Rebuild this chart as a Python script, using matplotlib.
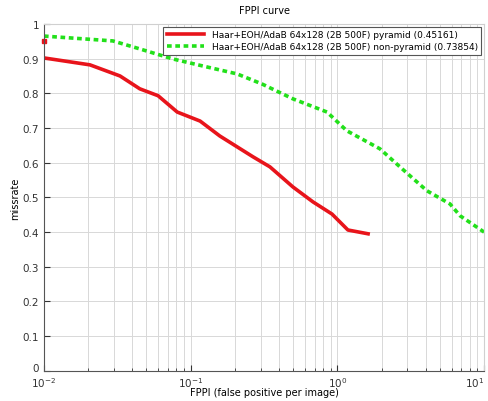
import matplotlib
matplotlib.use('Agg')
import matplotlib.pyplot as plt
from matplotlib.ticker import LogLocator, NullFormatter

# red: pyramid
fppi_pyr = [0.01, 0.0206, 0.033, 0.045, 0.060, 0.081, 0.116, 0.158, 0.266, 0.347,
            0.498, 0.682, 0.919, 1.18, 1.62]
miss_pyr = [0.902, 0.882, 0.850, 0.813, 0.793, 0.746, 0.720, 0.677, 0.617, 0.588,
            0.530, 0.487, 0.452, 0.406, 0.395]

# green: non-pyramid
fppi_np = [0.01, 0.0295, 0.045, 0.0757, 0.129, 0.207, 0.306, 0.498, 0.85, 1.16,
           1.95, 2.67, 3.13, 4.08, 5.86, 6.86, 10.0]
miss_np = [0.965, 0.951, 0.928, 0.899, 0.876, 0.856, 0.827, 0.784, 0.746, 0.692,
           0.640, 0.588, 0.562, 0.519, 0.481, 0.447, 0.400]

dot_x = [0.01]
dot_y = [0.95]

xticks = [0.01, 0.1, 1, 10]
xticklabels = ['$10^{-2}$', '$10^{-1}$', '$10^{0}$', '$10^{1}$']

labels = ['Haar+EOH/AdaB 64x128 (2B 500F) pyramid (0.45161)',
          'Haar+EOH/AdaB 64x128 (2B 500F) non-pyramid (0.73854)']

fig = plt.figure(figsize=(4.88, 4.02), dpi=100)
ax = fig.add_axes([0.090, 0.075, 0.902, 0.863])

ax.plot(fppi_pyr, miss_pyr, color='#e8141b', lw=2.6, label=labels[0])
ax.plot(fppi_np, miss_np, color='#22e01a', lw=2.6, ls=(0, (1.3, 1.0)), label=labels[1])
ax.plot(dot_x, dot_y, 's', color='#e8141b', ms=2.5, clip_on=False)

ax.set_xscale('log')
ax.set_xlim(0.01, 10)
ax.set_ylim(0, 1)
ax.set_yticks([i / 10 for i in range(11)])
ax.set_yticklabels(['0', '0.1', '0.2', '0.3', '0.4', '0.5', '0.6', '0.7', '0.8', '0.9', '1'])
ax.get_yticklabels()[0].set_verticalalignment('baseline')
ax.set_xticks(xticks)
ax.set_xticklabels(xticklabels)
ax.xaxis.set_minor_locator(LogLocator(base=10, subs=range(2, 10)))
ax.xaxis.set_minor_formatter(NullFormatter())
ax.get_xticklabels()[-1].set_horizontalalignment('right')

ax.grid(True, which='major', color='#d8d8d8', lw=0.7)
ax.grid(True, which='minor', axis='x', color='#d8d8d8', lw=0.7)
ax.set_axisbelow(True)

ax.tick_params(which='both', direction='in', labelsize=7.5, colors='#333333')
ax.tick_params(which='major', length=4)
ax.tick_params(which='minor', length=2)
ax.tick_params(axis='x', pad=3)
for s in ['left', 'bottom']:
    ax.spines[s].set_color('#555555')
for s in ['top', 'right']:
    ax.spines[s].set_color('#d0d0d0')

ax.set_title('FPPI curve', fontsize=7, pad=8)
ax.set_xlabel('FPPI (false positive per image)', fontsize=7, labelpad=-1)
ax.set_ylabel('missrate', fontsize=7, labelpad=2)

leg = ax.legend(loc='upper right', fontsize=6.5, fancybox=False, framealpha=1,
                edgecolor='#555555', handlelength=4.2, borderpad=0.4,
                labelspacing=0.35, borderaxespad=0.3)
leg.get_frame().set_linewidth(0.8)

fig.savefig('out.png', dpi=100)
